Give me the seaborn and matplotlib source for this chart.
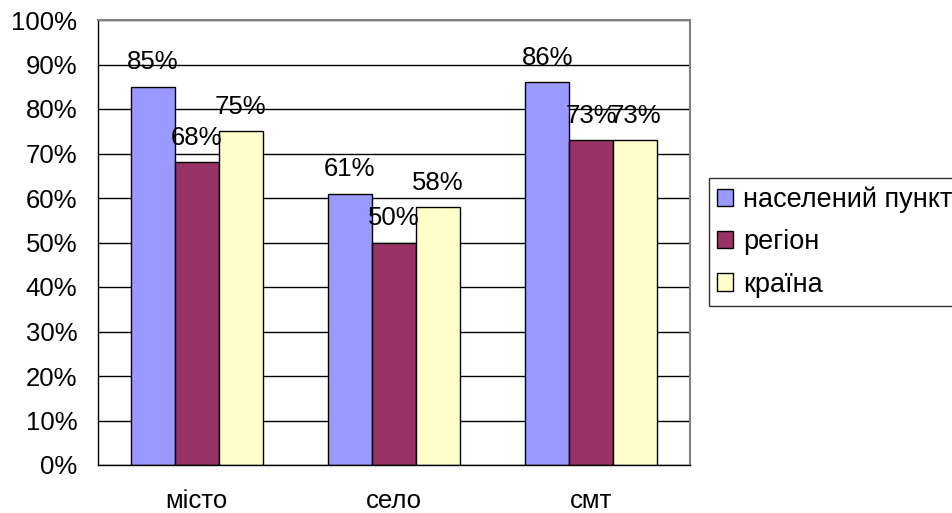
import seaborn as sns
import matplotlib.pyplot as plt
import pandas as pd
from matplotlib.ticker import PercentFormatter, FixedLocator

# Chart data
categories = ['місто', 'село', 'смт']
series = ['населений пункт', 'регіон', 'країна']
settlement = [0.85, 0.61, 0.86]
region = [0.68, 0.50, 0.73]
country = [0.75, 0.58, 0.73]
colors = ['#9999FF', '#993366', '#FFFFCC']

df = pd.DataFrame({
    'category': categories * 3,
    'series': [s for s in series for _ in categories],
    'value': settlement + region + country,
})

sns.set_style('white')
plt.rcParams['font.family'] = ['Liberation Sans', 'DejaVu Sans']
plt.rcParams['text.color'] = 'black'
plt.rcParams['xtick.color'] = 'black'
plt.rcParams['ytick.color'] = 'black'

fig = plt.figure(figsize=(9.53, 5.13), dpi=100)
ax = fig.add_axes([98 / 953, 1 - 465 / 513, 592 / 953, 445 / 513])

sns.barplot(data=df, x='category', y='value', hue='series', hue_order=series,
            palette=colors, width=0.67, gap=0, edgecolor='black', linewidth=1,
            saturation=1, errorbar=None, ax=ax)

# data labels above the bars
for cont in ax.containers:
    for bar in cont:
        h = bar.get_height()
        ax.annotate(f'{h:.0%}', (bar.get_x() + bar.get_width() / 2, h),
                    xytext=(0, 12.5), textcoords='offset points',
                    ha='center', va='baseline', fontsize=18.5, color='black')

ax.set_ylim(0, 1)
ax.set_xlim(-0.5, 2.5)
ax.set_yticks([i / 10 for i in range(11)])
ax.yaxis.set_major_formatter(PercentFormatter(1.0, decimals=0))
ax.yaxis.grid(True, color='black', linewidth=1)
ax.set_axisbelow(True)

ax.xaxis.set_minor_locator(FixedLocator([-0.5, 0.5, 1.5, 2.5]))
ax.tick_params(axis='x', which='major', length=0, pad=17, labelsize=18.5)
ax.tick_params(axis='x', which='minor', length=6, width=1, color='black', direction='out')
ax.tick_params(axis='y', length=6, width=1, color='black', direction='out', pad=9, labelsize=18.5)

ax.set_xlabel('')
ax.set_ylabel('')

for side in ['left', 'bottom']:
    ax.spines[side].set_color('black')
    ax.spines[side].set_linewidth(1)
for side in ['top', 'right']:
    ax.spines[side].set_color('#808080')
    ax.spines[side].set_linewidth(1.5)

leg = ax.legend(loc='center left', bbox_to_anchor=(709 / 953, 1 - 242 / 513),
                bbox_transform=fig.transFigure, frameon=True, fancybox=False,
                edgecolor='black', fontsize=19.5, handlelength=0.6, handleheight=0.6,
                handletextpad=0.35, labelspacing=0.6, borderpad=0.3, borderaxespad=0)
leg.get_frame().set_linewidth(1)

plt.savefig('out.png', dpi=100)
